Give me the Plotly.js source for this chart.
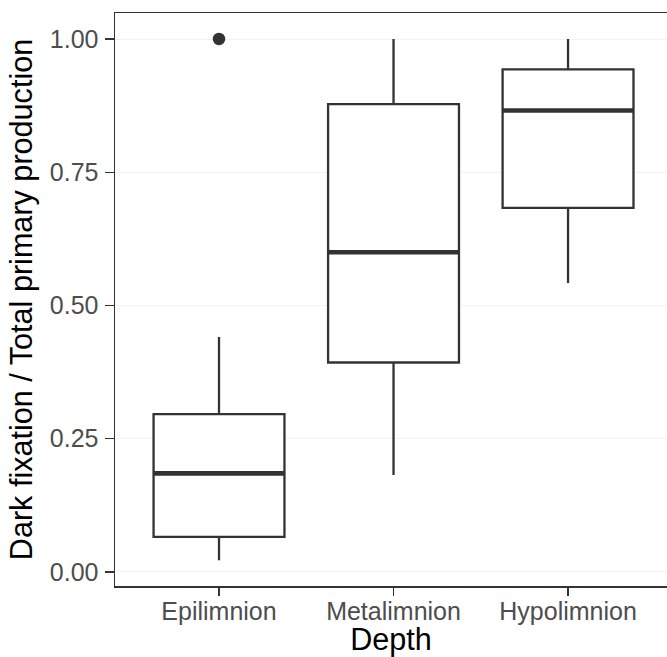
<!DOCTYPE html>
<html><head><meta charset="utf-8">
<script src="https://cdn.plot.ly/plotly-3.0.1.min.js"></script>
<style>html,body{margin:0;padding:0;background:#fff}</style>
</head><body><div id="chart" style="width:667px;height:657px"></div>
<script>
const categories = ["Epilimnion", "Metalimnion", "Hypolimnion"];
const lowerWhisker = [0.022, 0.182, 0.542];
const q1 = [0.066, 0.393, 0.683];
const median = [0.185, 0.600, 0.866];
const q3 = [0.296, 0.878, 0.943];
const upperWhisker = [0.441, 1.000, 1.000];
const outlierDepth = ["Epilimnion"];
const outlierValue = [1.000];
const yTicks = [0, 0.25, 0.5, 0.75, 1.0];
const yTickLabels = ["0.00", "0.25", "0.50", "0.75", "1.00"];

const FONT = "Liberation Sans, Arial, Helvetica, sans-serif";
const dark = "#333333";

const boxTrace = {
  type: "box",
  x: categories,
  q1: q1,
  median: median,
  q3: q3,
  lowerfence: lowerWhisker,
  upperfence: upperWhisker,
  boxpoints: false,
  fillcolor: "#ffffff",
  line: { color: dark, width: 2.3 },
  whiskerwidth: 0,
  width: 0.75,
  hoverinfo: "skip",
  showlegend: false
};

// thicker median bar (ggplot fatten = 2); line-ew length = 1.4 * size
const medianTrace = {
  type: "scatter",
  mode: "markers",
  x: categories,
  y: median,
  marker: { symbol: "line-ew", size: 93.3, color: dark, line: { color: dark, width: 4.6 } },
  hoverinfo: "skip",
  showlegend: false
};

const outlierTrace = {
  type: "scatter",
  mode: "markers",
  x: outlierDepth,
  y: outlierValue,
  marker: { symbol: "circle", size: 12.5, color: dark },
  hoverinfo: "skip",
  showlegend: false
};

const layout = {
  width: 667,
  height: 657,
  margin: { l: 115, r: 0, t: 13, b: 71 },
  paper_bgcolor: "#ffffff",
  plot_bgcolor: "#ffffff",
  font: { family: FONT },
  showlegend: false,
  xaxis: {
    type: "category",
    categoryarray: categories,
    categoryorder: "array",
    range: [-0.596, 2.567],
    showline: true,
    mirror: true,
    linecolor: dark,
    linewidth: 1.5,
    ticks: "outside",
    ticklen: 8,
    tickwidth: 1.5,
    tickcolor: dark,
    ticklabelstandoff: -6,
    showgrid: false,
    zeroline: false,
    tickfont: { family: FONT, size: 25, color: "#4D4D4D" },
    title: { text: "Depth", font: { family: FONT, size: 30.6, color: "#000000" }, standoff: 6 },
    automargin: false
  },
  yaxis: {
    range: [-0.0263, 1.0488],
    tickvals: yTicks,
    ticktext: yTickLabels,
    showline: true,
    mirror: false,
    linecolor: dark,
    linewidth: 1.5,
    ticks: "outside",
    ticklen: 9,
    tickwidth: 1.5,
    tickcolor: dark,
    ticklabelstandoff: 1,
    showgrid: true,
    gridcolor: "#F2F2F2",
    gridwidth: 1,
    zeroline: false,
    tickfont: { family: FONT, size: 25, color: "#4D4D4D" },
    title: { text: "Dark fixation / Total primary production", font: { family: FONT, size: 30.6, color: "#000000" }, standoff: 8 },
    automargin: false
  }
};

Plotly.newPlot("chart", [boxTrace, medianTrace, outlierTrace], layout, { staticPlot: true, displayModeBar: false });
</script>
</body></html>
